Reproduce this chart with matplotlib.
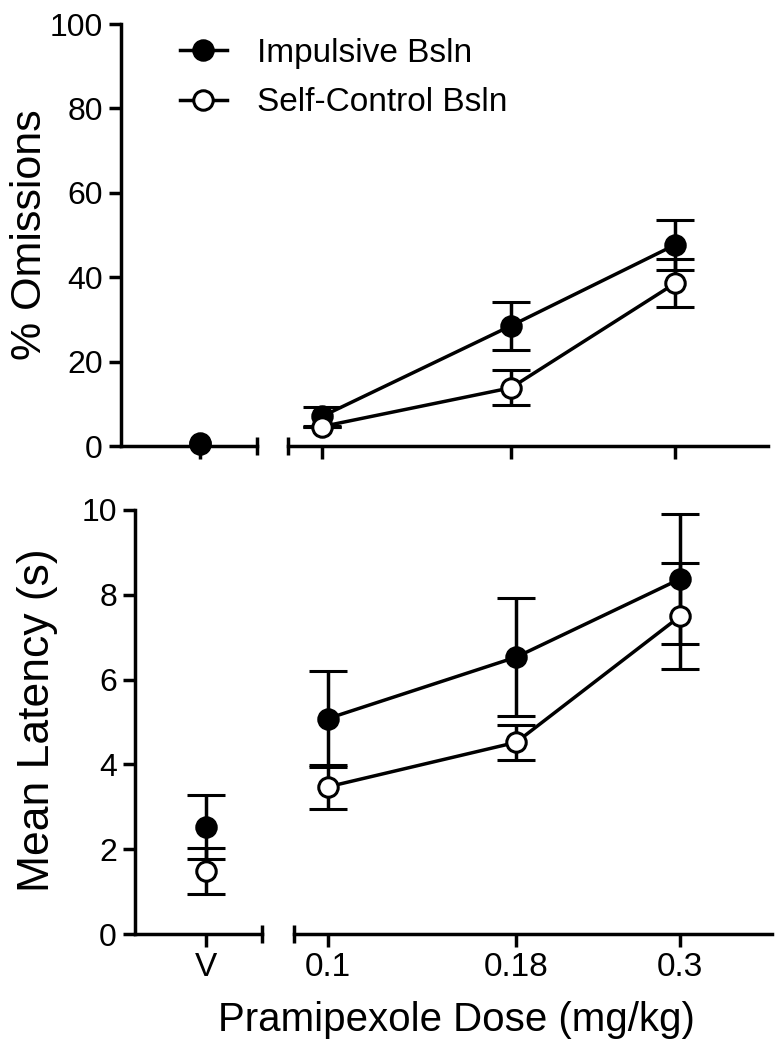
import matplotlib.pyplot as plt
from matplotlib.lines import Line2D
from matplotlib.ticker import NullLocator

plt.rcParams['font.family'] = ['Liberation Sans', 'DejaVu Sans']

series = ['Impulsive Bsln', 'Self-Control Bsln']
doses = [0.1, 0.18, 0.3]
dose_labels = ['0.1', '0.18', '0.3']

# % omissions: vehicle (impulsive, self-control), then dose-response
omit_veh = [0.8, 0.5]
omit_veh_err = [0.0, 0.0]
omit_imp = [7.0, 28.5, 47.7]
omit_imp_err = [2.2, 5.7, 5.9]
omit_sc = [4.6, 13.8, 38.6]
omit_sc_err = [0.0, 4.2, 5.6]

# mean latency (s)
lat_veh = [2.52, 1.49]
lat_veh_err = [0.75, 0.54]
lat_imp = [5.08, 6.53, 8.37]
lat_imp_err = [1.13, 1.39, 1.54]
lat_sc = [3.47, 4.52, 7.49]
lat_sc_err = [0.52, 0.41, 1.25]

W, H = 779, 1050
fig = plt.figure(figsize=(W / 100, H / 100), dpi=100)


def box(x0, x1, y0, y1):
    return [x0 / W, 1 - y1 / H, (x1 - x0) / W, (y1 - y0) / H]


top_l = fig.add_axes(box(121, 257, 24, 446))
top_r = fig.add_axes(box(288, 768, 24, 446), sharey=top_l)
bot_l = fig.add_axes(box(135, 262, 510, 934))
bot_r = fig.add_axes(box(294, 772, 510, 934), sharey=bot_l)

LW = 2.5
style = dict(color='k', ms=14, mew=2.2, lw=LW, elinewidth=LW, capsize=14,
             capthick=LW, mec='k', clip_on=False)
fills = ['k', 'white']


def draw(ax_l, ax_r, veh, veh_err, imp, imp_err, sc, sc_err):
    for i in [1, 0]:
        err = [veh_err[i]] if veh_err[i] > 0 else None
        ax_l.errorbar([0], [veh[i]], yerr=err, fmt='o', mfc=fills[i],
                      zorder=3 + (1 - i), **style)
    ax_r.errorbar(doses, imp, yerr=imp_err, fmt='o-', mfc='k', zorder=3, **style)
    ax_r.errorbar(doses, sc, yerr=sc_err, fmt='o-', mfc='white', zorder=4, **style)


draw(top_l, top_r, omit_veh, omit_veh_err, omit_imp, omit_imp_err, omit_sc, omit_sc_err)
draw(bot_l, bot_r, lat_veh, lat_veh_err, lat_imp, lat_imp_err, lat_sc, lat_sc_err)

top_l.set_xlim(-1.37, 1.0)
bot_l.set_xlim(-1.27, 1.0)
top_l.set_ylim(0, 100)
top_l.set_yticks([0, 20, 40, 60, 80, 100])
bot_l.set_ylim(0, 10)
bot_l.set_yticks([0, 2, 4, 6, 8, 10])

for ax in [top_l, top_r, bot_l, bot_r]:
    ax.spines['top'].set_visible(False)
    ax.spines['right'].set_visible(False)
    for s in ax.spines.values():
        s.set_linewidth(LW)
    ax.tick_params(width=LW, length=9, direction='out', pad=4)
    ax.tick_params(axis='y', labelsize=23)
    ax.tick_params(axis='x', labelsize=24)
    ax.patch.set_visible(False)

for ax in [top_r, bot_r]:
    ax.set_xscale('log')
    ax.set_xlim(0.09, 0.4)
    ax.xaxis.set_minor_locator(NullLocator())
    ax.spines['left'].set_visible(False)
    ax.tick_params(axis='y', left=False, labelleft=False)
    ax.set_xticks(doses)
    # break caps at segment starts
    ax.plot([0], [0], marker='|', ms=13, mew=LW, color='k',
            transform=ax.transAxes, clip_on=False)

for ax in [top_l, bot_l]:
    ax.set_xticks([0])
    ax.plot([1], [0], marker='|', ms=13, mew=LW, color='k',
            transform=ax.transAxes, clip_on=False)

top_l.set_xticklabels([])
top_r.set_xticklabels([])
bot_l.set_xticklabels(['V'])
bot_r.set_xticklabels(dose_labels)

fig.text(30 / W, 1 - 235 / H, '% Omissions', fontsize=31, rotation=90,
         ha='center', va='center')
fig.text(38 / W, 1 - 720 / H, 'Mean Latency (s)', fontsize=32, rotation=90,
         ha='center', va='center')
fig.text(456 / W, 1 - 1020 / H, 'Pramipexole Dose (mg/kg)', fontsize=29,
         ha='center', va='center')

handles = [Line2D([], [], color='k', lw=LW, marker='o', ms=14, mew=2.2,
                  mec='k', mfc=f) for f in fills]
fig.legend(handles, series, loc='upper left', bbox_to_anchor=(150 / W, 1 - 8 / H),
           frameon=False, fontsize=24, handlelength=1.4, handletextpad=0.9,
           labelspacing=0.55)

fig.savefig('out.png', dpi=100)
